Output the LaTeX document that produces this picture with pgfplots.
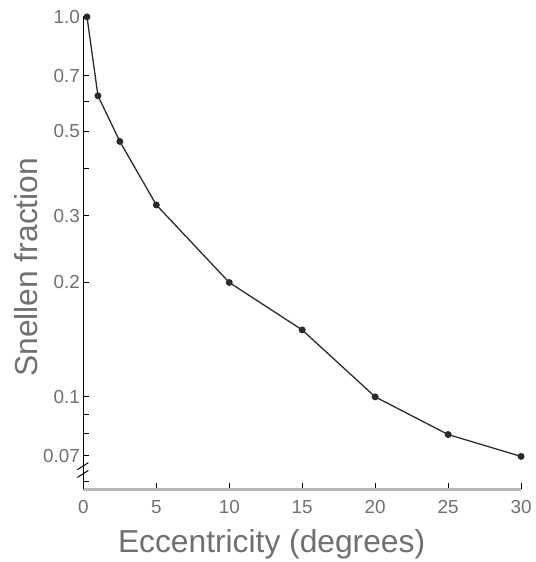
\documentclass[border=0pt]{standalone}
\usepackage{fontspec}
\setmainfont{Liberation Sans}
\usepackage{pgfplots}
\pgfplotsset{compat=1.18}
\definecolor{txt}{HTML}{707070}
\definecolor{curve}{HTML}{2A2A2A}
\begin{document}
\begin{tikzpicture}
\begin{axis}[
  scale only axis, width=441pt, height=476pt,
  ymode=log, xmin=0, xmax=30, ymin=0.0571, ymax=1.0,
  axis lines=left,
  x axis line style={-, draw=gray!55, line width=2.6pt},
  y axis line style={-, draw=black, line width=1.3pt},
  xtick={0,5,...,30},
  ytick={0.07,0.1,0.2,0.3,0.5,0.7,1},
  yticklabels={0.07,0.1,0.2,0.3,0.5,0.7,1.0},
  minor ytick={0.06,0.08,0.09,0.4,0.6},
  tick align=inside, major tick length=6pt, minor tick length=6pt,
  tick style={black, line width=1pt},
  ticklabel style={font=\fontsize{19}{19}\selectfont, text=txt},
  xticklabel style={yshift=-8pt},
  /pgf/number format/assume math mode=true,
  xlabel={Eccentricity (degrees)}, ylabel={Snellen fraction},
  label style={font=\fontsize{32}{32}\selectfont, text=txt},
  xlabel style={at={(axis description cs:0.43,-0.1155)}, anchor=center},
  ylabel style={at={(axis description cs:-0.1315,0.47)}, anchor=center},
  clip=false,
]
\addplot[curve, line width=1.3pt, mark=*, mark size=2.8pt] coordinates {
  (0.25,1.0) (1,0.62) (2.5,0.47) (5,0.32) (10,0.2) (15,0.15)
  (20,0.1) (25,0.0796) (30,0.0697)
};
% axis break marks on the y axis
\draw[black, line width=1pt] ([xshift=-6pt,yshift=-3pt]axis cs:0,0.0655) -- ++(11pt,7pt);
\draw[black, line width=1pt] ([xshift=-6pt,yshift=-3pt]axis cs:0,0.0625) -- ++(11pt,7pt);
\end{axis}
\path[use as bounding box] (-84pt,-69pt) rectangle (456pt,493pt);
\end{tikzpicture}
\end{document}
